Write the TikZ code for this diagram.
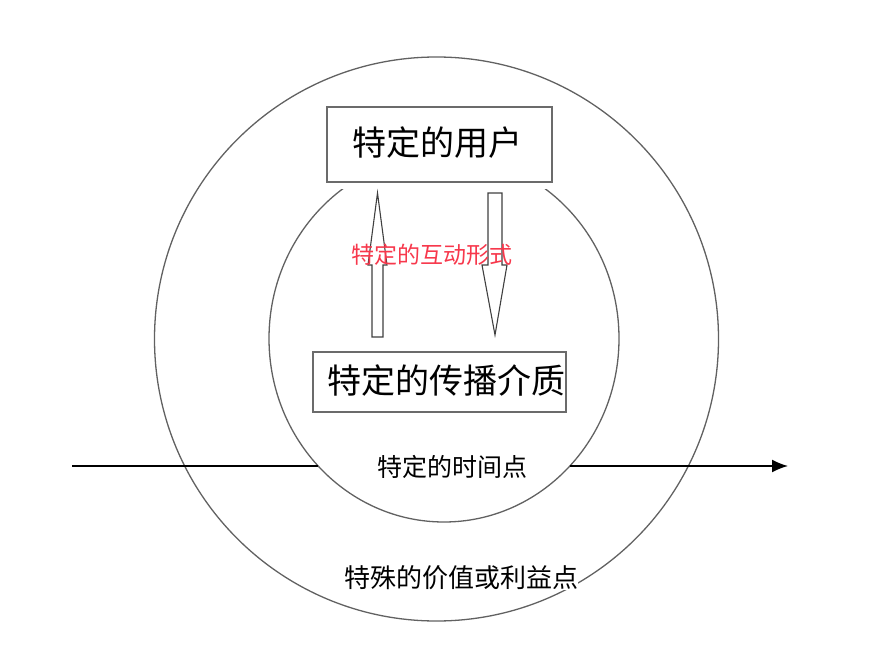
\documentclass[tikz,border=0pt]{standalone}
\usepackage{fontspec}
\usepackage{tikz}
\usepackage{xcolor}
\usetikzlibrary{arrows.meta}
\newfontfamily\cjk{Noto Sans CJK SC}
\definecolor{ringgray}{rgb}{0.38,0.38,0.38}
\definecolor{boxgray}{rgb}{0.42,0.42,0.42}
\definecolor{talkred}{rgb}{0.97,0.22,0.3}
\tikzset{
  ring/.style={draw=ringgray,line width=1.3pt},
  labelbox/.style={draw=boxgray,line width=2pt,fill=white,inner sep=0pt},
  blockarrow/.style={draw=black!75,line width=1.1pt,fill=white},
  plainlabel/.style={inner sep=0pt,font=\cjk}
}

\begin{document}
\begin{tikzpicture}[x=1pt,y=-1pt]
            \useasboundingbox (0,0) rectangle (875,658);

            % the two rings
            \draw[ring] (436.5,339) circle (282);
            \draw[ring] (444,338.5) ellipse (175 and 183.5);

            % the time axis, hidden inside the inner ring
            \coordinate (axisstart) at (72,466);
            \coordinate (axisin) at (318,466);
            \coordinate (axisout) at (570,466);
            \coordinate (axisend) at (788,466);
            \draw[line width=1.6pt] (axisstart) -- (axisin);
            \draw[line width=1.6pt,-{Latex[length=16pt,width=13pt]}] (axisout) -- (axisend);

            % the boxes
            \fill[white] (327,107) rectangle (552,189);
            \node[labelbox,minimum width=225pt,minimum height=75pt] (user) at (439.5,144.5) {};
            \node[plainlabel,font=\cjk\fontsize{34pt}{36pt}\selectfont] (usertext) at (437,143) {特定的用户};
            \node[labelbox,minimum width=253pt,minimum height=60pt] (media) at (439.5,382) {};
            \node[plainlabel,font=\cjk\fontsize{34pt}{36pt}\selectfont] (mediatext) at (446,381) {特定的传播介质};

            % the two hollow arrows
            \draw[blockarrow] (372,337) -- (372,265) -- (368,265) -- (377.5,193)
                -- (387,265) -- (383,265) -- (383,337) -- cycle;
            \draw[blockarrow] (488,193) -- (502,193) -- (502,265) -- (507,265)
                -- (495,335) -- (482,265) -- (488,265) -- cycle;

            % labels
            \node[plainlabel,text=talkred,font=\cjk\fontsize{23pt}{25pt}\selectfont] (talk) at (432,255) {特定的互动形式};
            \node[plainlabel,font=\cjk\fontsize{25pt}{27pt}\selectfont] (time) at (452,467) {特定的时间点};
            \node[plainlabel,fill=white,font=\cjk\fontsize{26pt}{28pt}\selectfont] (value) at (461,578) {特殊的价值或利益点};
        \end{tikzpicture}
\end{document}
